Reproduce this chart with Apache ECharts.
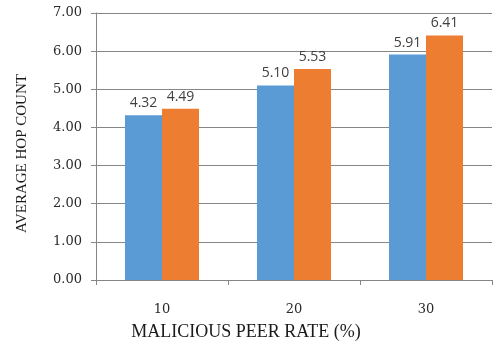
<!DOCTYPE html>
<html>
<head>
<meta charset="utf-8">
<script src="https://cdn.jsdelivr.net/npm/echarts@6/dist/echarts.min.js"></script>
<style>
  html, body { margin: 0; padding: 0; background: #fff; }
  #chart { width: 497px; height: 354px; }
</style>
</head>
<body>
<div id="chart"></div>
<script>
// Malicious peer rate categories and the two hop-count series
const categories = ['10', '20', '30'];
const seriesA = [4.32, 5.10, 5.91];
const seriesB = [4.49, 5.53, 6.41];
const yTicks = { min: 0, max: 7, interval: 1 };

const chart = echarts.init(document.getElementById('chart'), null, { renderer: 'canvas' });

const labelStyle = {
  show: true,
  position: 'top',
  distance: 5,
  color: '#404040',
  fontFamily: 'Open Sans, Noto Sans, sans-serif',
  fontSize: 14,
  formatter: p => p.value.toFixed(2)
};

const tickFont = {
  color: '#2a2a2a',
  fontFamily: 'DejaVu Serif, serif',
  fontSize: 13
};

chart.setOption({
  animation: false,
  backgroundColor: '#ffffff',
  grid: { left: 96, right: 5, top: 13, bottom: 74, containLabel: false },
  xAxis: {
    type: 'category',
    data: categories,
    name: 'MALICIOUS PEER RATE (%)',
    nameLocation: 'middle',
    nameGap: 43,
    nameTextStyle: {
      fontFamily: 'Liberation Serif, Times New Roman, serif',
      fontSize: 18,
      color: '#1a1a1a',
      padding: [0, 96, 0, 0]
    },
    axisLine: { lineStyle: { color: '#868686', width: 1 } },
    axisTick: { show: true, length: 5, lineStyle: { color: '#868686' } },
    axisLabel: Object.assign({ margin: 23 }, tickFont),
    splitLine: { show: false }
  },
  yAxis: {
    type: 'value',
    min: yTicks.min,
    max: yTicks.max,
    interval: yTicks.interval,
    name: 'AVERAGE HOP COUNT',
    nameLocation: 'middle',
    nameGap: 66,
    nameTextStyle: {
      fontFamily: 'Liberation Serif, Times New Roman, serif',
      fontSize: 15,
      color: '#1a1a1a',
      padding: [0, 14, 0, 0]
    },
    axisLine: { show: true, lineStyle: { color: '#868686', width: 1 } },
    axisTick: { show: true, length: 5, lineStyle: { color: '#868686' } },
    axisLabel: Object.assign({ margin: 14, formatter: v => v.toFixed(2) }, tickFont),
    splitLine: { show: true, lineStyle: { color: '#868686', width: 1 } }
  },
  series: [
    {
      name: 'A',
      type: 'bar',
      data: seriesA,
      barWidth: 37,
      barGap: '0%',
      itemStyle: { color: '#5B9BD5' },
      label: labelStyle
    },
    {
      name: 'B',
      type: 'bar',
      data: seriesB,
      barWidth: 37,
      barGap: '0%',
      itemStyle: { color: '#ED7D31' },
      label: labelStyle
    }
  ]
});
</script>
</body>
</html>
